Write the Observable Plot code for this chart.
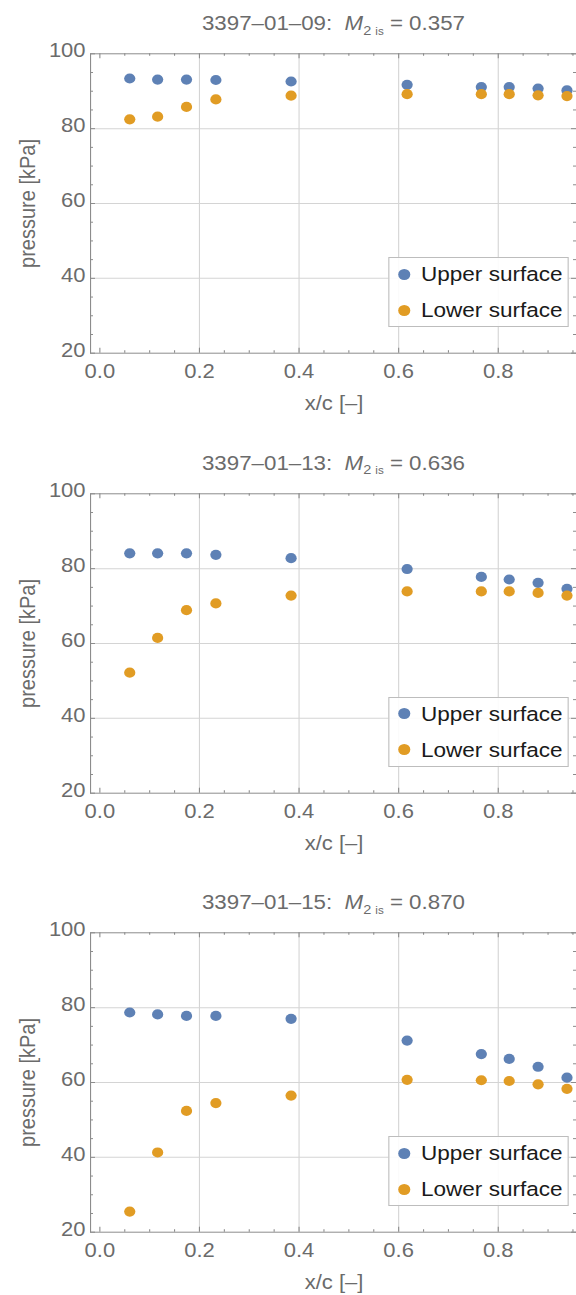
<!DOCTYPE html>
<html><head><meta charset="utf-8">
<script src="https://cdn.jsdelivr.net/npm/d3@7"></script>
<script src="https://cdn.jsdelivr.net/npm/@observablehq/plot@0.6"></script>
<style>
body{margin:0;background:#fff;overflow:hidden;width:576px;font-family:"Liberation Sans",Arial,sans-serif;}
.wrap{width:576px;height:439.5px;overflow:hidden;}
.panel{position:relative;width:523.64px;height:439.5px;transform:scaleX(1.1);transform-origin:0 0;}
.panel svg{position:absolute;left:0;top:0;}
.title{position:absolute;left:81.8px;width:442.7px;top:9px;text-align:center;font-size:20.3px;color:#6b6b6b;line-height:28px;white-space:pre;}
.title sub{font-size:0.65em;vertical-align:-0.35em;line-height:0;}
.title sub span{font-size:0.8em;}
.legend{position:absolute;left:352.7px;top:257px;width:164.5px;height:70px;box-sizing:border-box;border:1px solid #bdbdbd;background:rgba(255,255,255,0.9);}
.row{position:absolute;left:0;height:36px;line-height:36px;font-size:20.5px;color:#1a1a1a;white-space:nowrap;}
.row i{position:absolute;left:8.8px;top:12.5px;width:11px;height:11px;border-radius:50%;}
.row span{position:absolute;left:29px;}
</style></head>
<body>
<div id="root"></div>
<script>
const xPos = [0.06, 0.116, 0.174, 0.233, 0.384, 0.617, 0.766, 0.822, 0.880, 0.938];
const runIds = ["3397–01–09", "3397–01–13", "3397–01–15"];
const machNumbers = ["0.357", "0.636", "0.870"];
const upper09 = [93.4, 93.1, 93.1, 93.0, 92.6, 91.7, 91.1, 91.1, 90.7, 90.2];
const lower09 = [82.5, 83.2, 85.8, 87.8, 88.8, 89.2, 89.2, 89.2, 88.9, 88.7];
const upper13 = [84.1, 84.1, 84.1, 83.7, 82.8, 79.9, 77.8, 77.1, 76.2, 74.6];
const lower13 = [52.2, 61.5, 68.9, 70.7, 72.8, 73.9, 73.9, 73.9, 73.5, 72.8];
const upper15 = [78.7, 78.2, 77.8, 77.8, 77.0, 71.2, 67.6, 66.3, 64.2, 61.3];
const lower15 = [25.5, 41.3, 52.4, 54.5, 56.5, 60.7, 60.6, 60.4, 59.5, 58.3];
const seriesNames = ["Upper surface", "Lower surface"];
const seriesColors = ["#5e81b5", "#e19c24"];
const xMajor = [0, 0.2, 0.4, 0.6, 0.8];
const xMinor = [0.05, 0.1, 0.15, 0.25, 0.3, 0.35, 0.45, 0.5, 0.55, 0.65, 0.7, 0.75, 0.85, 0.9, 0.95];
const xGrid = [0.2, 0.4, 0.6, 0.8];
const yMajor = [20, 40, 60, 80, 100];
const yMinor = [25, 30, 35, 45, 50, 55, 65, 70, 75, 85, 90, 95];
const yGrid = [40, 60, 80];
const xLabel = "x/c [–]";
const yLabel = "pressure [kPa]";

const panels = [[upper09, lower09], [upper13, lower13], [upper15, lower15]];
const S = 1.1;
const W = 576 / S, H = 439.5, mt = 53.3, mb = 86.8, ml = 90 / S, mr = W - 577 / S;
const innerH = H - mt - mb, innerW = W - ml - mr;
const frameColor = "#8c8c8c", textColor = "#6b6b6b", gridColor = "#d4d4d4";
const font = "'Liberation Sans', Arial, sans-serif";

const root = document.getElementById("root");
panels.forEach(([up, lo], k) => {
  const data = [
    ...xPos.map((x, i) => ({x, p: up[i], s: seriesNames[0]})),
    ...xPos.map((x, i) => ({x, p: lo[i], s: seriesNames[1]}))
  ];
  const chart = Plot.plot({
    width: W, height: H, marginTop: mt, marginBottom: mb, marginLeft: ml, marginRight: mr,
    style: {fontFamily: font, background: "transparent", overflow: "hidden"},
    x: {domain: [-0.0187, 0.9592]},
    y: {domain: [20, 100]},
    color: {domain: seriesNames, range: seriesColors},
    marks: [
      Plot.gridX(xGrid, {stroke: gridColor, strokeOpacity: 1}),
      Plot.gridY(yGrid, {stroke: gridColor, strokeOpacity: 1}),
      Plot.tickX(xMinor, {insetTop: innerH - 2.5, stroke: frameColor}),
      Plot.tickX(xMinor, {insetBottom: innerH - 2.5, stroke: frameColor}),
      Plot.tickX(xMajor, {insetTop: innerH - 5, stroke: frameColor}),
      Plot.tickX(xMajor, {insetBottom: innerH - 5, stroke: frameColor}),
      Plot.tickY(yMinor, {insetRight: innerW - 3 / S, stroke: frameColor}),
      Plot.tickY(yMinor, {insetLeft: innerW - 3 / S - 1 / S, stroke: frameColor}),
      Plot.tickY(yMajor, {insetRight: innerW - 5 / S, stroke: frameColor}),
      Plot.tickY(yMajor, {insetLeft: innerW - 5 / S - 1 / S, stroke: frameColor}),
      Plot.frame({stroke: frameColor}),
      Plot.dot(data, {x: "x", y: "p", fill: "s", r: 5.1}),
      Plot.axisX(xMajor, {tickSize: 0, tickPadding: 10.5, fontSize: 20, color: textColor, tickFormat: d3.format(".1f"), label: null}),
      Plot.axisY(yMajor, {tickSize: 0, tickPadding: 4.5, fontSize: 20, color: textColor, dy: -3, label: null}),
      Plot.text([xLabel], {frameAnchor: "bottom", lineAnchor: "middle", textAnchor: "middle", dy: 50.6, fontSize: 20, fill: textColor}),
      Plot.text([yLabel], {frameAnchor: "left", textAnchor: "middle", lineAnchor: "middle", rotate: -90, dx: -(90 - 27) / S, fontSize: 20, fill: textColor})
    ]
  });
  const wrap = document.createElement("div");
  wrap.className = "wrap";
  const div = document.createElement("div");
  div.className = "panel";
  div.appendChild(chart);
  const t = document.createElement("div");
  t.className = "title";
  t.innerHTML = `${runIds[k]}:  <i>M</i><sub>2 <span>is</span></sub> = ${machNumbers[k]}`;
  div.appendChild(t);
  const lg = document.createElement("div");
  lg.className = "legend";
  seriesNames.forEach((n, j) => {
    const r = document.createElement("div");
    r.className = "row";
    r.style.top = (-2 + j * 36) + "px";
    r.innerHTML = `<i style="background:${seriesColors[j]}"></i><span>${n}</span>`;
    lg.appendChild(r);
  });
  div.appendChild(lg);
  wrap.appendChild(div);
  root.appendChild(wrap);
});
</script>
</body></html>
